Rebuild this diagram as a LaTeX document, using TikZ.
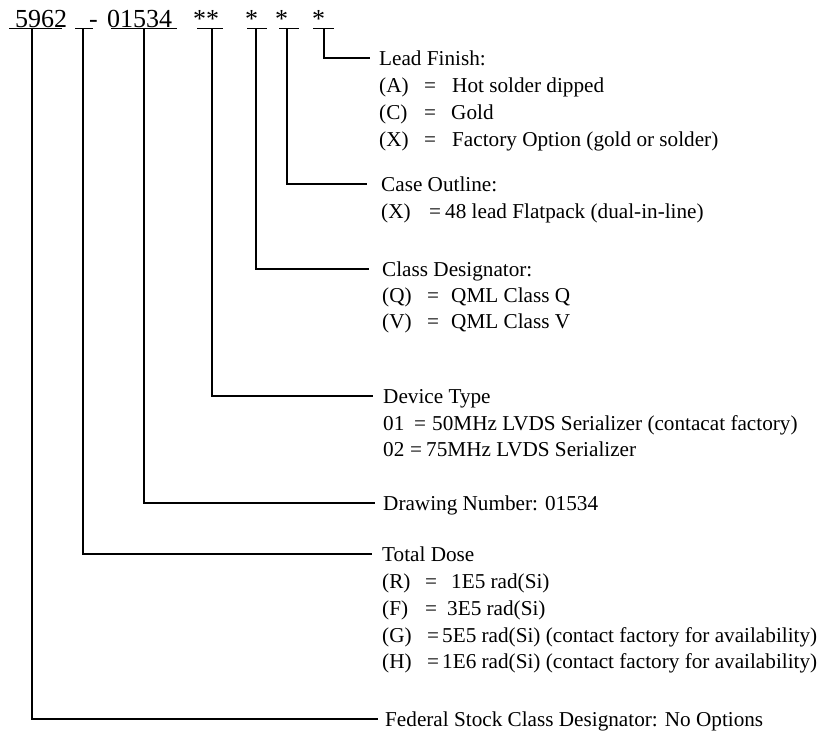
\documentclass[tikz,border=0pt]{standalone}
\usepackage{fontspec}
\setmainfont{Liberation Serif}
\begin{document}
\begin{tikzpicture}[x=1pt,y=-1pt,
  body/.style={font=\fontsize{21.2}{25}\selectfont, anchor=west, inner sep=0pt, text height=14pt, text depth=0pt},
  top/.style={font=\fontsize{26}{30}\selectfont, anchor=base west, inner sep=0pt},
  conn/.style={line width=2pt},
  uline/.style={line width=1.6pt}]
\useasboundingbox (0,0) rectangle (827,731);
% top code
\node[top] (t1) at (15,27) {5962};
\node[top] (t2) at (89,27) {-};
\node[top] (t3) at (107,27) {01534};
\node[top] (t4) at (193,27) {**};
\node[top] (t5) at (245,27) {*};
\node[top] (t6) at (275,27) {*};
\node[top] (t7) at (312,27) {*};
\draw[uline] (9,28.5) -- (62,28.5);
\draw[uline] (75,28.5) -- (93,28.5);
\draw[uline] (111,28.5) -- (177,28.5);
\draw[uline] (197,28.5) -- (223,28.5);
\draw[uline] (247,28.5) -- (267,28.5);
\draw[uline] (279,28.5) -- (299,28.5);
\draw[uline] (313,28.5) -- (334,28.5);
\coordinate (c1) at (32,28.5);
\coordinate (c2) at (83,28.5);
\coordinate (c3) at (144,28.5);
\coordinate (c4) at (212,28.5);
\coordinate (c5) at (256,28.5);
\coordinate (c6) at (287,28.5);
\coordinate (c7) at (324,28.5);
% Lead finish
\node[body] (lf) at (379,58) {Lead Finish:};
\node[body] at (379,85) {(A)}; \node[body] at (424,85) {=}; \node[body] at (452,85) {Hot solder dipped};
\node[body] at (379,112) {(C)}; \node[body] at (424,112) {=}; \node[body] at (451,112) {Gold};
\node[body] at (379,139) {(X)}; \node[body] at (424,139) {=}; \node[body] at (452,139) {Factory Option (gold or solder)};
% Case outline
\node[body] (co) at (381,184) {Case Outline:};
\node[body] at (381,211) {(X)}; \node[body] at (429,211) {=}; \node[body] at (445,211) {48 lead Flatpack (dual-in-line)};
% Class designator
\node[body] (cd) at (382,269) {Class Designator:};
\node[body] at (382,295) {(Q)}; \node[body] at (427,295) {=}; \node[body] at (451,295) {QML Class Q};
\node[body] at (382,321) {(V)}; \node[body] at (427,321) {=}; \node[body] at (451,321) {QML Class V};
% Device type
\node[body] (dt) at (383,396) {Device Type};
\node[body] at (383,423) {01}; \node[body] at (414,423) {=}; \node[body] at (432,423) {50MHz LVDS Serializer (contacat factory)};
\node[body] at (383,449) {02}; \node[body] at (410,449) {=}; \node[body] at (426,449) {75MHz LVDS Serializer};
% Drawing number
\node[body] (dn) at (383,503) {Drawing Number: 01534};
% Total dose
\node[body] (td) at (382,554) {Total Dose};
\node[body] at (382,581) {(R)}; \node[body] at (425,581) {=}; \node[body] at (451,581) {1E5 rad(Si)};
\node[body] at (382,608) {(F)}; \node[body] at (425,608) {=}; \node[body] at (447,608) {3E5 rad(Si)};
\node[body] at (382,635) {(G)}; \node[body] at (427,635) {=}; \node[body] at (442,635) {5E5 rad(Si) (contact factory for availability)};
\node[body] at (382,661) {(H)}; \node[body] at (427,661) {=}; \node[body] at (442,661) {1E6 rad(Si) (contact factory for availability)};
% Federal
\node[body] (fs) at (385,719) {Federal Stock Class Designator: No Options};
% connectors
\draw[conn] (c7) |- ([xshift=-9pt]lf.west);
\draw[conn] (c6) |- ([xshift=-14pt]co.west);
\draw[conn] (c5) |- ([xshift=-13pt]cd.west);
\draw[conn] (c4) |- ([xshift=-10pt]dt.west);
\draw[conn] (c3) |- ([xshift=-8pt]dn.west);
\draw[conn] (c2) |- ([xshift=-10pt]td.west);
\draw[conn] (c1) |- ([xshift=-7pt]fs.west);
\end{tikzpicture}
\end{document}
